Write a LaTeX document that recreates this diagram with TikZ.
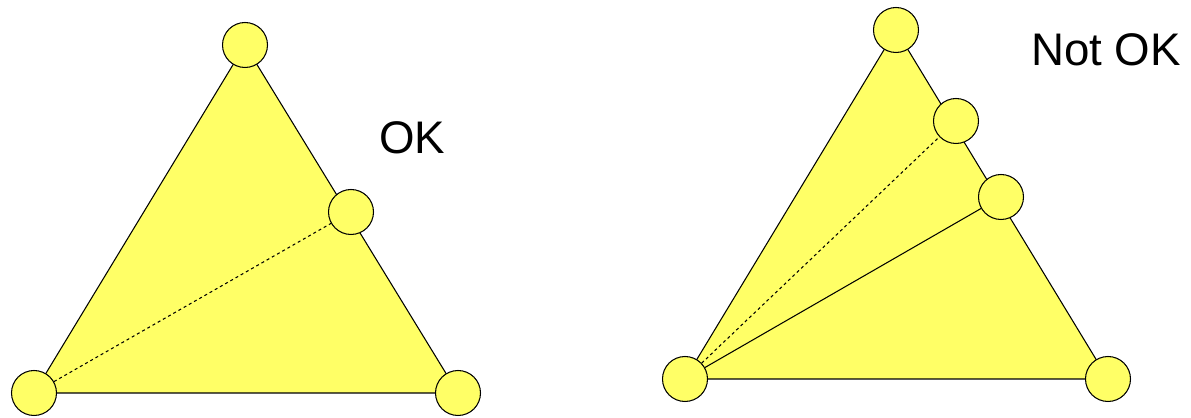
\documentclass[tikz,border=0pt]{standalone}
\usepackage{fontspec}
\setmainfont{Liberation Sans}
\usepackage{xcolor}
\usepackage{tikz}
\definecolor{lightyellow}{RGB}{255,255,102}

\begin{document}
\begin{tikzpicture}[
  x=0.02cm, y=-0.02cm,
  line width=0.6pt,
  vtx/.style={circle, draw, fill=lightyellow, minimum size=0.9cm, inner sep=0pt},
  face/.style={fill=lightyellow, draw},
  diag/.style={dash pattern=on 1.7pt off 1.7pt},
  lbl/.style={font=\fontsize{26}{30}\selectfont}
]
  \useasboundingbox (0,0) rectangle (1191,418);

  % Left triangle (OK)
  \coordinate (lA) at (245,45);
  \coordinate (lB) at (34,393);
  \coordinate (lC) at (458,393);
  \coordinate (lM) at (351,212);
  \draw[face] (lA) -- (lB) -- (lC) -- cycle;
  \node[vtx] (la) at (lA) {};
  \node[vtx] (lb) at (lB) {};
  \node[vtx] (lc) at (lC) {};
  \node[vtx] (lm) at (lM) {};
  \draw[diag] (lb) -- (lm);
  \node[lbl] (ok) at (412,138) {OK};

  % Right triangle (Not OK)
  \coordinate (rA) at (896,30);
  \coordinate (rB) at (685,379);
  \coordinate (rC) at (1108,379);
  \coordinate (rP) at (956,121);
  \coordinate (rQ) at (1001,197);
  \draw[face] (rA) -- (rB) -- (rC) -- cycle;
  \node[vtx] (ra) at (rA) {};
  \node[vtx] (rb) at (rB) {};
  \node[vtx] (rc) at (rC) {};
  \node[vtx] (rp) at (rP) {};
  \node[vtx] (rq) at (rQ) {};
  \draw[diag] (rb) -- (rp);
  \draw (rb) -- (rq);
  \node[lbl] (notok) at (1106,50) {Not OK};
\end{tikzpicture}
\end{document}
